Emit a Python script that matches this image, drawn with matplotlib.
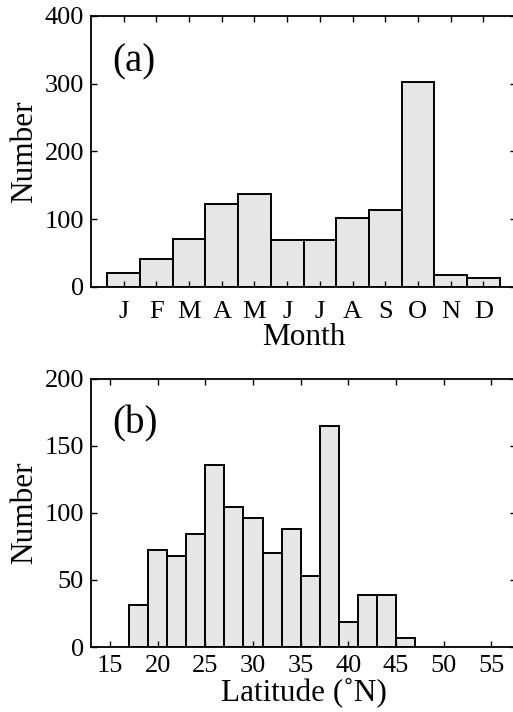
import numpy as np
from matplotlib import pyplot as plt

plt.rcParams["font.family"] = ["Liberation Serif", "DejaVu Serif"]
plt.rcParams["font.size"] = 19

# (a) monthly counts
months = ["J", "F", "M", "A", "M", "J", "J", "A", "S", "O", "N", "D"]
month_counts = [20, 41, 71, 122, 138, 70, 70, 102, 113, 302, 17, 13]

# (b) latitude histogram, 2-degree bins starting at 17N
lat_edges = [17, 19, 21, 23, 25, 27, 29, 31, 33, 35, 37, 39, 41, 43, 45, 47]
lat_counts = [31, 72, 68, 84, 136, 104, 96, 70, 88, 53, 165, 19, 39, 39, 7]

W, H = 513, 712
fig = plt.figure(figsize=(W / 100, H / 100), dpi=100)

bar_kw = dict(color="#e6e6e6", edgecolor="black", linewidth=1.4)
label_size = 22.5


def style_axes(ax):
    for s in ax.spines.values():
        s.set_linewidth(1.3)
    ax.tick_params(direction="in", top=True, right=True, length=4, width=1.0, pad=5)


# top panel
ax1 = fig.add_axes([91 / W, (H - 287) / H, 425 / W, 271 / H])
x = np.arange(1, len(months) + 1)
ax1.bar(x, month_counts, width=1.0, **bar_kw)
ax1.set_xlim(0, 13)
ax1.set_ylim(0, 400)
ax1.set_xticks(x)
ax1.set_xticklabels(months)
ax1.set_yticks([0, 100, 200, 300, 400])
style_axes(ax1)
ax1.tick_params(axis="x", pad=10)
ax1.set_xlabel("Month", fontsize=label_size, labelpad=0)
ax1.set_ylabel("Number", fontsize=label_size, labelpad=4)
ax1.text(0.05, 0.83, "(a)", transform=ax1.transAxes, fontsize=28, va="center")

# bottom panel
ax2 = fig.add_axes([91 / W, (H - 647) / H, 425 / W, 268.3 / H])
ax2.bar(lat_edges[:-1], lat_counts, width=np.diff(lat_edges), align="edge", **bar_kw)
ax2.set_xlim(13, 57.6)
ax2.set_ylim(0, 200)
ax2.set_xticks(np.arange(15, 56, 5))
ax2.set_yticks([0, 50, 100, 150, 200])
style_axes(ax2)
ax2.tick_params(axis="x", pad=6)
ax2.set_xlabel("Latitude (˚N)", fontsize=label_size, labelpad=0)
ax2.set_ylabel("Number", fontsize=label_size, labelpad=4)
ax2.text(0.05, 0.832, "(b)", transform=ax2.transAxes, fontsize=28, va="center")

fig.savefig("out.png", dpi=100)
